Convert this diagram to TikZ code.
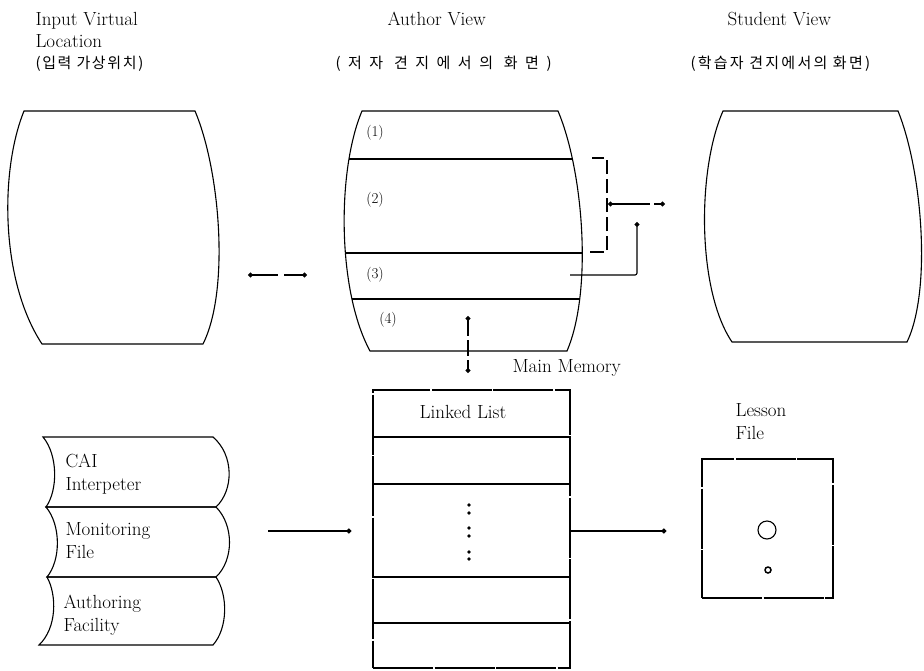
\documentclass[tikz,border=0pt]{standalone}
\usepackage{fontspec}
\newfontfamily\kr{Noto Sans CJK KR}
\usetikzlibrary{arrows.meta,positioning}

\tikzset{
  lbl/.style={font=\fontsize{19}{23}\selectfont, inner sep=0pt, align=left},
  kor/.style={font=\fontsize{15}{18}\kr, inner sep=0pt},
  sec/.style={font=\fontsize{15}{18}\selectfont, inner sep=0pt},
  link/.style={-{Circle[length=5pt]}},
  dlink/.style={{Circle[length=5pt]}-{Circle[length=5pt]}},
  memline/.style={dash pattern=on 60pt off 1.5pt}
}

\begin{document}
\begin{tikzpicture}[x=1pt,y=-1pt,line width=1.1pt]
			\useasboundingbox (0,0) rectangle (924,670);
			% titles
			\node[lbl,anchor=base west] (inputT) at (35,25) {Input Virtual};
			\node[lbl,anchor=base west] (inputT2) at (35,47) {Location};
			\node[kor,anchor=base west,font=\fontsize{15}{18}\kr\addfontfeatures{LetterSpace=11}] (inputK) at (35,68) {(입력 가상위치)};
			\node[lbl,anchor=base west] (authorT) at (387,25) {Author View};
			\node[kor,anchor=base west,font=\fontsize{15}{18}\kr\addfontfeatures{LetterSpace=50}] (authorK) at (335,68) {(저자 견지에서의 화면)};
			\node[lbl,anchor=base west] (studentT) at (727,25) {Student View};
			\node[kor,anchor=base west,font=\fontsize{15}{18}\kr\addfontfeatures{LetterSpace=15}] (studentK) at (690,68) {(학습자 견지에서의 화면)};
			
			% screens
			\draw (24,111) -- (195,111) .. controls (220,170) and (230,290) .. (203,344) -- (42,344) .. controls (0,280) and (0,170) .. cycle;
			\draw (362,111) -- (558,111) .. controls (583,170) and (593,290) .. (567,351) -- (370,351) .. controls (337,290) and (337,170) .. cycle;
			\draw (723,111) -- (898,111) .. controls (922,170) and (932,290) .. (907,342) -- (732,342) .. controls (697,290) and (697,170) .. cycle;
			\begin{scope}
				\clip (362,111) -- (558,111) .. controls (583,170) and (593,290) .. (567,351) -- (370,351) .. controls (337,290) and (337,170) .. cycle;
				\foreach \y in {159,253,299}
					\draw (330,\y) -- (600,\y);
			\end{scope}
			\node[sec] (s1) at (375,133) {(1)};
			\node[sec] (s2) at (375,200) {(2)};
			\node[sec] (s3) at (375,275) {(3)};
			\node[sec] (s4) at (388,320) {(4)};
			
			\coordinate (inputR) at (248,275);
			\coordinate (authorL) at (307,275);
			\draw[dlink,dash pattern=on 26pt off 6pt] (inputR) -- (authorL);
			
			\coordinate (br1) at (590,252);
			\coordinate (br2) at (607,252);
			\coordinate (br3) at (607,158);
			\coordinate (br4) at (592,158);
			\draw[dash pattern=on 14pt off 5pt] (br1) -- (br2) -- (br3) -- (br4);
			\coordinate (brOut) at (608,204);
			\coordinate (studentL) at (665,204);
			\draw[dlink,dash pattern=on 38pt off 4pt] (brOut) -- (studentL);
			\coordinate (sec3) at (570,275);
			\coordinate (sec3up) at (637,222);
			\draw[link,rounded corners=2pt] (sec3) -| (sec3up);
			
			% main memory
			\node[lbl,anchor=base west] (memT) at (512,372) {Main Memory};
			\node[draw,memline,minimum width=197pt,minimum height=278pt] (list) at (471.5,529) {};
			\node[lbl] (listT) at (463,412) {Linked List};
			\foreach \y in {437,484,577,623}
				\draw (list.west |- 0,\y) -- (list.east |- 0,\y);
			\foreach \y in {505,513,528,536,552,559}
				\fill (469,\y) circle (1.8);
			\coordinate (sec4) at (468,316);
			\coordinate (memTop) at (468,373);
			\draw[dlink,dash pattern=on 16pt off 4pt] (sec4) -- (memTop);
			
			% lesson file
			\node[lbl,anchor=west] (lessonT) at (735,422) {Lesson\\File};
			\node[draw,memline,minimum width=131pt,minimum height=139pt] (lesson) at (767.5,528.5) {};
			\node[draw,circle,minimum size=18pt,inner sep=0pt] (disk) at (767,530) {};
			\node[draw,circle,minimum size=6pt,inner sep=0pt,line width=1.5pt] (hole) at (768,570) {};
			
			% program stack
			\draw (43,437) -- (213,437) .. controls (234,455) and (234,490) .. (216,507) -- (46,507) .. controls (58,490) and (58,455) .. cycle;
			\draw (46,507) -- (216,507) .. controls (234,525) and (234,560) .. (216,577) -- (47,577) .. controls (61,560) and (61,525) .. cycle;
			\draw (47,577) -- (216,577) .. controls (228,595) and (228,628) .. (213,645) -- (39,645) .. controls (57,628) and (57,595) .. cycle;
			\node[lbl,anchor=west] (cai) at (65,474) {CAI\\Interpeter};
			\node[lbl,anchor=west] (mon) at (65,541) {Monitoring\\File};
			\node[lbl,anchor=west] (fac) at (63,615) {Authoring\\Facility};
			
			\coordinate (stackR) at (268,531);
			\draw[link] (stackR) -- ([xshift=-21pt]list.west |- stackR);
			\draw[link,shorten >=35pt] (list.east |- stackR) -- (lesson.west |- stackR);
		\end{tikzpicture}
\end{document}
